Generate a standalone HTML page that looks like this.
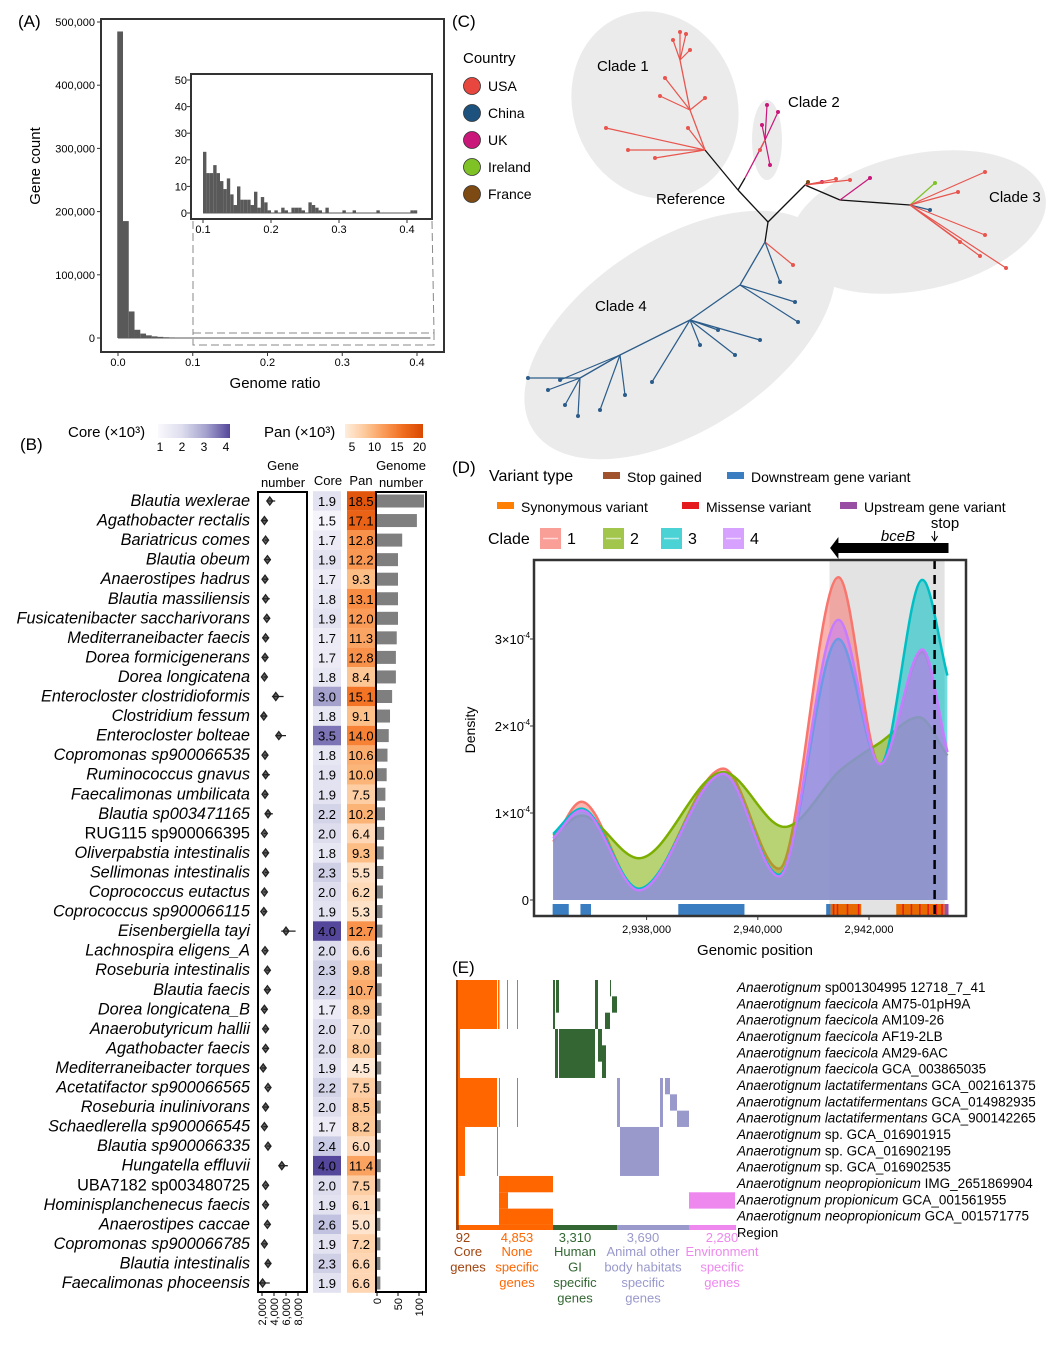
<!DOCTYPE html>
<html><head><meta charset="utf-8"><style>
body{margin:0;background:#fff}
svg{display:block;font-family:"Liberation Sans",Arial,sans-serif}
</style></head><body>
<svg id="fig" width="1061" height="1351" viewBox="0 0 1061 1351" xmlns="http://www.w3.org/2000/svg">
<g id="pA"></g>
<g id="pB"></g>
<g id="pC"></g>
<g id="pD"></g>
<g id="pE"></g>
</svg>
<script>
// ---------- Panel A data ----------
const mainBinStart=-0.001, mainBinW=0.0077;
const mainCounts=[485000,185000,42000,13000,7000,4200,2600,1800,1200,900,600,400,300];
const mainYTicks=[0,100000,200000,300000,400000,500000];
const mainYLabels=["0","100,000","200,000","300,000","400,000","500,000"];
const mainXTicks=[0,0.1,0.2,0.3,0.4];
const mainXLabels=["0.0","0.1","0.2","0.3","0.4"];
const insetBinStart=0.1, insetBinW=0.005;
const insetCounts=[23,15,15,18,15,12,9,13,7,3,10,5,5,5,3,8,2,6,4,1,0,1,0,2,1,0,2,2,2,1,0,4,3,2,1,0,2,0,0,0,0,1,0,0,1,0,0,0,0,0,0,1,0,0,0,0,0,0,0,0,0,1,1];
const insetYTicks=[0,10,20,30,40,50];
const insetXTicks=[0.1,0.2,0.3,0.4];
// ---------- Panel B data ----------
const species=["Blautia wexlerae","Agathobacter rectalis","Bariatricus comes","Blautia obeum","Anaerostipes hadrus","Blautia massiliensis","Fusicatenibacter saccharivorans","Mediterraneibacter faecis","Dorea formicigenerans","Dorea longicatena","Enterocloster clostridioformis","Clostridium fessum","Enterocloster bolteae","Copromonas sp900066535","Ruminococcus gnavus","Faecalimonas umbilicata","Blautia sp003471165","RUG115 sp900066395","Oliverpabstia intestinalis","Sellimonas intestinalis","Coprococcus eutactus","Coprococcus sp900066115","Eisenbergiella tayi","Lachnospira eligens_A","Roseburia intestinalis","Blautia faecis","Dorea longicatena_B","Anaerobutyricum hallii","Agathobacter faecis","Mediterraneibacter torques","Acetatifactor sp900066565","Roseburia inulinivorans","Schaedlerella sp900066545","Blautia sp900066335","Hungatella effluvii","UBA7182 sp003480725","Hominisplanchenecus faecis","Anaerostipes caccae","Copromonas sp900066785","Blautia intestinalis","Faecalimonas phoceensis"];
const coreVals=[1.9,1.5,1.7,1.9,1.7,1.8,1.9,1.7,1.7,1.8,3.0,1.8,3.5,1.8,1.9,1.9,2.2,2.0,1.8,2.3,2.0,1.9,4.0,2.0,2.3,2.2,1.7,2.0,2.0,1.9,2.2,2.0,1.7,2.4,4.0,2.0,1.9,2.6,1.9,2.3,1.9];
const panVals=[18.5,17.1,12.8,12.2,9.3,13.1,12.0,11.3,12.8,8.4,15.1,9.1,14.0,10.6,10.0,7.5,10.2,6.4,9.3,5.5,6.2,5.3,12.7,6.6,9.8,10.7,8.9,7.0,8.0,4.5,7.5,8.5,8.2,6.0,11.4,7.5,6.1,5.0,7.2,6.6,6.6];
const genomeNums=[112,95,60,50,50,50,50,47,45,45,36,31,28,25,23,20,19,17,16,15,14,13,13,12,12,11,11,10,10,10,10,9,9,9,9,8,8,8,8,8,8];
const geneMed=[3.3,2.4,2.6,2.9,2.5,2.6,2.8,2.6,2.5,2.4,4.3,2.3,4.8,2.5,2.6,2.5,3.0,2.4,2.6,2.6,2.4,2.3,6.0,2.5,2.9,2.9,2.4,2.6,2.6,2.2,3.0,2.6,2.4,3.0,5.3,2.6,2.6,2.9,2.4,3.0,2.1];
const geneSpread=[0.9,0.6,0.3,0.6,0.5,0.7,0.4,0.6,0.6,0.3,1.3,0.6,1.2,0.4,0.7,0.4,0.8,0.3,0.6,0.3,0.3,0.3,1.6,0.3,0.4,0.6,0.4,0.5,0.5,0.4,0.3,0.5,0.4,0.4,1.0,0.3,0.3,0.4,0.5,0.6,1.2];
const geneTicks=[2000,4000,6000,8000];
const geneTickLabels=["2,000","4,000","6,000","8,000"];
const genomeTicks=[0,50,100];
// ---------- Panel D data ----------
const cladeNames=["1","2","3","4"];
const c1x=[2936.32,2936.83,2937.86,2939.38,2940.38,2941.45,2942.2,2942.96,2943.41], c1v=[0.67,1.13,0.11,1.51,0.36,3.71,1.56,2.85,1.70];
const c2x=[2936.32,2936.83,2937.86,2939.38,2940.48,2941.5,2942.2,2942.9,2943.41], c2v=[0.74,0.97,0.48,1.47,0.84,1.5,1.81,2.1,1.66];
const c3x=[2936.32,2936.83,2937.86,2939.38,2940.38,2941.45,2942.2,2942.96,2943.41], c3v=[0.76,1.05,0.13,1.45,0.29,3.0,1.56,3.68,2.58];
const c4x=[2936.32,2936.83,2937.86,2939.38,2940.38,2941.45,2942.2,2942.96,2943.41], c4v=[0.71,1.03,0.11,1.45,0.27,3.22,1.56,2.88,1.70];
const dXTicks=[2938,2940,2942];
const dXLabels=["2,938,000","2,940,000","2,942,000"];
const dYTicks=[0,1,2,3];
const dYLabels=["0","1×10","2×10","3×10"];
const rugStart=[2936.31,2936.81,2938.57,2941.23,2941.31,2942.49,2943.36];
const rugEnd=[2936.60,2937.0,2939.76,2941.31,2941.86,2943.36,2943.43];
const rugType=["down","down","down","down","syn","syn","up"];
const missenseAt=[2941.35,2941.42,2941.6,2941.8,2942.6,2942.75,2942.9,2943.05,2943.2,2943.3];
// ---------- Panel E data ----------
const eStrains=[["sp001304995 12718_7_41"],["faecicola AM75-01pH9A"],["faecicola AM109-26"],["faecicola AF19-2LB"],["faecicola AM29-6AC"],["faecicola GCA_003865035"],["lactatifermentans GCA_002161375"],["lactatifermentans GCA_014982935"],["lactatifermentans GCA_900142265"],["sp. GCA_016901915"],["sp. GCA_016902195"],["sp. GCA_016902535"],["neopropionicum IMG_2651869904"],["propionicum GCA_001561955"],["neopropionicum GCA_001571775"]];
const regionCounts=["92","4,853","3,310","3,690","2,280"];
const regionNames=[["Core","genes"],["None","specific","genes"],["Human","GI","specific","genes"],["Animal other","body habitats","specific","genes"],["Environment","specific","genes"]];

const NS="http://www.w3.org/2000/svg";
function mk(parent,tag,attrs,text){const e=document.createElementNS(NS,tag);for(const k in attrs)e.setAttribute(k,attrs[k]);if(text!==undefined)e.textContent=text;parent.appendChild(e);return e;}

// ================= Panel A =================
(function(){
const g=document.getElementById('pA');
const t=mk(g,'text',{x:18,y:27,'font-size':17},'(A)');


const xs=v=>118+v*747.5, ys=v=>338-v*316/500000;
const box=mk(g,'rect',{x:101,y:19,width:343,height:333,fill:'none',stroke:'#333','stroke-width':2});


mainYTicks.forEach((v,i)=>{mk(g,'line',{x1:97,x2:101,y1:ys(v),y2:ys(v),stroke:'#333'});
 const l=mk(g,'text',{x:95,y:ys(v)+4,'font-size':11,'text-anchor':'end'},mainYLabels[i]);
 
 });
mainXTicks.forEach((v,i)=>{mk(g,'line',{x1:xs(v),x2:xs(v),y1:352,y2:356,stroke:'#333'});
 const l=mk(g,'text',{x:xs(v),y:366,'font-size':11,'text-anchor':'middle'},mainXLabels[i]);
 
 });
mainCounts.forEach((c,i)=>{const x0=xs(mainBinStart+i*mainBinW);
 const b=mk(g,'rect',{x:x0,y:ys(c),width:xs(mainBinStart+(i+1)*mainBinW)-x0,height:338-ys(c),fill:'#595959'});
 
 });
mk(g,'line',{x1:xs(0),x2:xs(0.418),y1:338,y2:338,stroke:'#595959'});
const yt=mk(g,'text',{x:40,y:166,'font-size':15,'text-anchor':'middle',transform:'rotate(-90 40 166)'},'Gene count');


const xt=mk(g,'text',{x:275,y:388,'font-size':15,'text-anchor':'middle'},'Genome ratio');


mk(g,'path',{d:'M193 333 H434 V345 H193 Z M193 221 V333 M432 221 L434 333',fill:'none',stroke:'#888','stroke-dasharray':'8,4'});
const ix=v=>203+(v-0.1)*680, iy=v=>213-v*2.66;
const ib=mk(g,'rect',{x:191,y:74,width:241,height:145,fill:'#fff',stroke:'#333','stroke-width':2});


insetYTicks.forEach(v=>{mk(g,'line',{x1:187,x2:191,y1:iy(v),y2:iy(v),stroke:'#333'});
 const l=mk(g,'text',{x:187,y:iy(v)+4,'font-size':11,'text-anchor':'end'},String(v));
 
 });
insetXTicks.forEach(v=>{mk(g,'line',{x1:ix(v),x2:ix(v),y1:219,y2:223,stroke:'#333'});
 const l=mk(g,'text',{x:ix(v),y:233,'font-size':11,'text-anchor':'middle'},v.toFixed(1));
 
 });
mk(g,'line',{x1:ix(0.1),x2:ix(0.1+insetCounts.length*insetBinW),y1:213,y2:213,stroke:'#595959'});
insetCounts.forEach((c,i)=>{if(!c)return;const x0=ix(insetBinStart+i*insetBinW);
 const b=mk(g,'rect',{x:x0,y:iy(c),width:ix(insetBinStart+(i+1)*insetBinW)-x0,height:213-iy(c),fill:'#595959'});
 
 });
})();

// ================= Panel B =================
(function(){
const g=document.getElementById('pB');
const t=mk(g,'text',{x:20,y:450,'font-size':17},'(B)');


function lerp(a,b,t){return a.map((v,i)=>Math.round(v+(b[i]-v)*t));}
function coreCol(v){const t=Math.max(0,Math.min(1,(v-1.4)/2.6));const c=t<0.5?lerp([250,249,253],[188,189,220],t/0.5):lerp([188,189,220],[84,71,155],(t-0.5)/0.5);return `rgb(${c})`;}
function panCol(v){const t=Math.max(0,Math.min(1,(v-4)/16));const stops=[[254,237,222],[253,190,133],[246,120,40],[217,72,1]];const s=Math.min(2,Math.floor(t*3));return `rgb(${lerp(stops[s],stops[s+1],t*3-s)})`;}
mk(g,'text',{x:68,y:437,'font-size':15},'Core (×10³)');
const dfs=mk(g,'defs',{});
const lg1=mk(dfs,'linearGradient',{id:'gcore'});
[1,2,3,4].forEach((v,i)=>mk(lg1,'stop',{offset:(i/3),'stop-color':coreCol(v)}));
const lg2=mk(dfs,'linearGradient',{id:'gpan'});
[4,8,12,16,20].forEach((v,i)=>mk(lg2,'stop',{offset:(i/4),'stop-color':panCol(v)}));
const cb=mk(g,'rect',{x:158,y:424,width:72,height:14,fill:'url(#gcore)'});


[1,2,3,4].forEach((v,i)=>mk(g,'text',{x:160+i*22,y:451,'font-size':12,'text-anchor':'middle'},String(v)));
mk(g,'text',{x:264,y:437,'font-size':15},'Pan (×10³)');
const pb=mk(g,'rect',{x:345,y:424,width:78,height:14,fill:'url(#gpan)'});


[5,10,15,20].forEach((v,i)=>mk(g,'text',{x:352+i*22.5,y:451,'font-size':12,'text-anchor':'middle'},String(v)));
[['Gene',283,470],['number',283,487],['Core',328,485],['Pan',361,485],['Genome',401,470],['number',401,487]].forEach(h=>{
 const e=mk(g,'text',{x:h[1],y:h[2],'font-size':13,'text-anchor':'middle'},h[0]);
 
 });
const ry=i=>501+i*19.55;
const gx=v=>262+(v-2000)*0.006;
const nx=v=>377+v*0.42;
const vb=mk(g,'rect',{x:258,y:492,width:49,height:800,fill:'none',stroke:'#000','stroke-width':2});


const nb=mk(g,'rect',{x:376,y:492,width:50,height:800,fill:'none',stroke:'#000','stroke-width':2});


species.forEach((s,i)=>{
 const y=ry(i);
 const lab=mk(g,'text',{x:250,y:y+5,'font-size':16.3,'text-anchor':'end','font-style':/^(RUG115|UBA7182)/.test(s)?'normal':'italic'},s);
 
 
 const m=gx(geneMed[i]*1000), sp=geneSpread[i]*6;
 const vl=mk(g,'path',{d:`M${m-sp*0.5} ${y} L${m+sp} ${y} M${m} ${y-4} L${m+3} ${y} L${m} ${y+4} L${m-3} ${y} Z`,stroke:'#222','stroke-width':1.3,fill:'#666'});
 
 
 const cr=mk(g,'rect',{x:313,y:y-9.8,width:28,height:19.6,fill:coreCol(coreVals[i])});
 
 
 mk(g,'text',{x:327,y:y+5,'font-size':13,'text-anchor':'middle'},coreVals[i].toFixed(1));
 const pr=mk(g,'rect',{x:347,y:y-9.8,width:28,height:19.6,fill:panCol(panVals[i])});
 
 
 mk(g,'text',{x:361,y:y+5,'font-size':13,'text-anchor':'middle'},panVals[i].toFixed(1));
 const br=mk(g,'rect',{x:377,y:y-6.5,width:nx(genomeNums[i])-377,height:13,fill:'#7f7f7f'});
 
 
});
geneTicks.forEach((v,i)=>{mk(g,'line',{x1:gx(v),x2:gx(v),y1:1292,y2:1296,stroke:'#000'});
 const l=mk(g,'text',{x:gx(v)+4,y:1298,'font-size':11,'text-anchor':'end',transform:`rotate(-90 ${gx(v)+4} 1298)`},geneTickLabels[i]);
 
 });
genomeTicks.forEach(v=>{mk(g,'line',{x1:nx(v),x2:nx(v),y1:1292,y2:1296,stroke:'#000'});
 const l=mk(g,'text',{x:nx(v)+4,y:1298,'font-size':11,'text-anchor':'end',transform:`rotate(-90 ${nx(v)+4} 1298)`},String(v));
 
 });
})();

// ================= Panel C =================
(function(){
const g=document.getElementById('pC');
const t=mk(g,'text',{x:452,y:27,'font-size':17},'(C)');


[[655,105,82,95,-20],[767,140,15,40,0],[918,222,130,68,-12],[680,335,175,95,-33]].forEach(e=>{
 const el=mk(g,'ellipse',{cx:e[0],cy:e[1],rx:e[2],ry:e[3],fill:'#ebebeb',transform:`rotate(${e[4]} ${e[0]} ${e[1]})`});
 
 });
[['Clade 1',597,71],['Clade 2',788,107],['Clade 3',989,202],['Clade 4',595,311],['Reference',656,204]].forEach(l=>{
 const e=mk(g,'text',{x:l[1],y:l[2],'font-size':15},l[0]);
 
 });
mk(g,'text',{x:463,y:63,'font-size':15},'Country');
const countries=[['USA','#e8473f'],['China','#1d527f'],['UK','#c9177a'],['Ireland','#7ec225'],['France','#7c4a12']];
countries.forEach((c,i)=>{const y=86+i*27;
 const ci=mk(g,'circle',{cx:472,cy:y,r:8.5,fill:c[1],stroke:'#333','stroke-width':0.8});
 
 
 mk(g,'text',{x:488,y:y+5,'font-size':14},c[0]);});
const R='#e8554e',B='#2b5c8a',M='#c9177a',K='#111';
const segs=[[768,222,738,190,K],[738,190,705,150,K],[738,190,745,178,K],[745,178,765,140,M],[768,222,805,185,K],[805,185,840,200,K],[840,200,910,205,K],[768,222,765,242,K],[765,242,740,285,B],[740,285,690,320,B],[690,320,620,355,B],[620,355,580,378,B],[705,150,690,110,R],[690,110,680,60,R]];
const tips=[
[680,60,680,32,R],[680,60,686,34,R],[680,60,673,40,R],[680,60,690,50,R],[690,110,665,78,R],[690,110,660,96,R],[705,150,606,128,R],[705,150,628,150,R],[705,150,655,158,R],[690,110,705,98,R],[705,150,688,128,R],
[765,140,767,105,M],[765,140,778,112,M],[765,140,762,125,M],[765,140,770,165,M],[765,140,760,150,R],
[805,185,808,182,K],[805,185,822,182,M],[805,185,836,179,R],[805,185,850,180,R],[840,200,870,178,M],[910,205,935,183,'#7ec225'],[910,205,958,192,R],[910,205,985,172,R],[910,205,930,210,B],[910,205,985,235,R],[910,205,1006,268,R],[910,205,980,256,R],[910,205,960,242,R],
[765,242,793,265,R],[765,242,780,282,B],[740,285,798,322,B],[740,285,795,302,B],[690,320,760,340,B],[690,320,735,355,B],[690,320,700,345,B],[690,320,652,382,B],[620,355,625,395,B],[620,355,600,410,B],[580,378,528,378,B],[580,378,548,390,B],[580,378,565,405,B],[580,378,578,416,B],[620,355,560,380,B],[690,320,718,330,B]];
segs.forEach(s=>{const l=mk(g,'line',{x1:s[0],y1:s[1],x2:s[2],y2:s[3],stroke:s[4],'stroke-width':1.3});
 
 });
tips.forEach(s=>{const l=mk(g,'line',{x1:s[0],y1:s[1],x2:s[2],y2:s[3],stroke:s[4],'stroke-width':1.2});
 
 
 const c=mk(g,'circle',{cx:s[2],cy:s[3],r:2,fill:s[4]===K?'#7c4a12':s[4]});
 
 });
})();

// ================= Panel D =================
(function(){
const g=document.getElementById('pD');
const t=mk(g,'text',{x:452,y:473,'font-size':17},'(D)');


const X=k=>646.6+(k-2938)*55.6, Y=v=>900-v*87;
mk(g,'text',{x:489,y:481,'font-size':16},'Variant type');
[['Stop gained','#a0522d',603,477],['Downstream gene variant','#3a7dc0',727,477],['Synonymous variant','#ff7f00',497,507],['Missense variant','#e41a1c',682,507],['Upstream gene variant','#984ea3',840,507]].forEach(l=>{
 const s=mk(g,'rect',{x:l[2],y:l[3]-5,width:17,height:7,fill:l[1]});
 
 
 mk(g,'text',{x:l[2]+24,y:l[3]+5,'font-size':14},l[0]);});
mk(g,'text',{x:488,y:544,'font-size':16},'Clade');
const cc=['#f8766d','#7cae00','#00bfc4','#c77cff'];
[541,604,662,724].forEach((x,i)=>{
 const s=mk(g,'rect',{x:x,y:529,width:19,height:19,fill:cc[i],opacity:0.7,stroke:cc[i],'stroke-width':2});
 
 
 mk(g,'line',{x1:x+2,x2:x+17,y1:538.5,y2:538.5,stroke:'#fff','stroke-width':1.5,opacity:0.6});
 mk(g,'text',{x:x+26,y:544,'font-size':16},cladeNames[i]);});
const sh=mk(g,'rect',{x:X(2941.29),y:560,width:X(2943.36)-X(2941.29),height:356,fill:'#e3e3e3'});


function mono(xs,ys){const n=xs.length,d=[],m=[];for(let i=0;i<n-1;i++)d.push((ys[i+1]-ys[i])/(xs[i+1]-xs[i]));
 m[0]=d[0];m[n-1]=d[n-2];for(let i=1;i<n-1;i++)m[i]=d[i-1]*d[i]<=0?0:(d[i-1]+d[i])/2;
 for(let i=0;i<n-1;i++){if(d[i]===0){m[i]=m[i+1]=0;continue;}const a=m[i]/d[i],b=m[i+1]/d[i],s=a*a+b*b;if(s>9){const tt=3/Math.sqrt(s);m[i]=tt*a*d[i];m[i+1]=tt*b*d[i];}}
 let p=`M${xs[0]} ${ys[0]}`;for(let i=0;i<n-1;i++){const h=(xs[i+1]-xs[i])/3;p+=` C${xs[i]+h} ${ys[i]+m[i]*h} ${xs[i+1]-h} ${ys[i+1]-m[i+1]*h} ${xs[i+1]} ${ys[i+1]}`;}return p;}
const series=[[c1x,c1v],[c2x,c2v],[c3x,c3v],[c4x,c4v]];
series.forEach((s,i)=>{const px=s[0].map(X),py=s[1].map(Y);const line=mono(px,py);
 const a=mk(g,'path',{d:line+` L${px[px.length-1]} ${Y(0)} L${px[0]} ${Y(0)} Z`,fill:cc[i],'fill-opacity':0.55});
 
 
 const l=mk(g,'path',{d:line,fill:'none',stroke:cc[i],'stroke-width':2.5});
 
 });
const rc={down:'#3a7dc0',syn:'#e66a00',up:'#984ea3'};
rugStart.forEach((s,i)=>{const r=mk(g,'rect',{x:X(s),y:904,width:X(rugEnd[i])-X(s),height:12,fill:rc[rugType[i]]});
 
 });
missenseAt.forEach(k=>{const r=mk(g,'rect',{x:X(k),y:904,width:1.5,height:12,fill:'#e41a1c'});
 
 });
const dl=mk(g,'line',{x1:X(2943.18),x2:X(2943.18),y1:560,y2:916,stroke:'#000','stroke-width':2.5,'stroke-dasharray':'9,6'});


const fr=mk(g,'rect',{x:534,y:560,width:432,height:356,fill:'none',stroke:'#333','stroke-width':2.5});


dYTicks.forEach((v,i)=>{mk(g,'line',{x1:530,x2:534,y1:Y(v),y2:Y(v),stroke:'#333'});
 const l=mk(g,'text',{x:v?524:529,y:Y(v)+5,'font-size':13,'text-anchor':'end'},dYLabels[i]);
 
 
 if(v)mk(g,'text',{x:523,y:Y(v)-1,'font-size':8},'-4');});
dXTicks.forEach((v,i)=>{mk(g,'line',{x1:X(v),x2:X(v),y1:916,y2:920,stroke:'#333'});
 const l=mk(g,'text',{x:X(v),y:933,'font-size':11,'text-anchor':'middle'},dXLabels[i]);
 
 });
const yt=mk(g,'text',{x:475,y:730,'font-size':14,'text-anchor':'middle',transform:'rotate(-90 475 730)'},'Density');


const xt=mk(g,'text',{x:755,y:955,'font-size':15,'text-anchor':'middle'},'Genomic position');


const ar=mk(g,'path',{d:`M${X(2943.43)} 543 H${X(2941.45)} V537 L${X(2941.3)} 548 L${X(2941.45)} 559 V553 H${X(2943.43)} Z`,fill:'#000'});


mk(g,'text',{x:898,y:541,'font-size':15,'font-style':'italic','text-anchor':'middle'},'bceB');
mk(g,'text',{x:945,y:528,'font-size':15,'text-anchor':'middle'},'stop');
mk(g,'path',{d:`M${X(2943.18)} 531 V540 M${X(2943.18)-3} 536 L${X(2943.18)} 541 L${X(2943.18)+3} 536`,stroke:'#000',fill:'none'});
})();

// ================= Panel E =================
(function(){
const g=document.getElementById('pE');
const t=mk(g,'text',{x:452,y:973,'font-size':17},'(E)');


const top=980,rh=16.33, ry=i=>top+i*rh;
const O='#ff6600',G='#336633',P='#9999cc',V='#ee88ee';
const blocks=[[0,3,457,497,O],[0,3,498,499.5,O],[0,3,507,508,O],[0,3,517,518,O],[6,9,457,497,O],[6,9,499,500,O],[6,9,517,518,O],[3,6,457,460,O],[9,12,457,465,O],[9,12,497,498,O],[12,13,499,553,O],[14,15,499,553,O],[13,14,499,508,O],[12,15,457,459,O],
[0,3,553,555,G],[0,2,556,559,G],[0,3,595,598,G],[2,3,605,610,G],[1,2,612,617,G],[0,1,610,611,G],[3,6,559,595,G],[3,6,555,558,G],[3,5,598,602,G],[4,6,602,606,G],
[6,9,617,620,P],[9,12,620,659,P],[6,9,660,663,P],[6,7,665,670,P],[7,8,670,677,P],[8,9,677,689,P],[13,14,689,735,V]];
blocks.forEach(b=>{const r=mk(g,'rect',{x:b[2],y:ry(b[0]),width:b[3]-b[2],height:ry(b[1])-ry(b[0]),fill:b[4]});
 
 });
mk(g,'rect',{x:456,y:top,width:2,height:rh*15,fill:'#a0440f'});
const regCols=['#a0440f',O,G,P,V], regX=[[456,459],[459,553],[553,617],[617,689],[689,736]];
regX.forEach((r,i)=>{const e=mk(g,'rect',{x:r[0],y:1225,width:r[1]-r[0],height:5,fill:regCols[i]});
 
 });
mk(g,'text',{x:737,y:1237,'font-size':13},'Region');
eStrains.forEach((s,i)=>{const l=mk(g,'text',{x:737,y:ry(i)+12,'font-size':13.5,'font-style':'italic'});
 
 
 l.textContent='Anaerotignum ';
 const w=s[0].split(' ');
 const isSp=/^sp/.test(w[0]);
 mk(l,'tspan',{'font-style':isSp?'normal':'italic'},w[0]+' ');
 mk(l,'tspan',{'font-style':'normal'},w.slice(1).join(' '));
});
const cx=[463,517,575,643,722];
const tc=['#a0440f','#ff6600','#336633','#9999cc','#ee88ee'];
regionCounts.forEach((c,i)=>{const e=mk(g,'text',{x:cx[i],y:1242,'font-size':13,'text-anchor':'middle',fill:tc[i]},c);
 
 
 regionNames[i].forEach((n,j)=>{const l=mk(g,'text',{x:i==0?468:cx[i],y:1256+j*15.5,'font-size':13,'text-anchor':'middle',fill:tc[i]},n);
  
  });});
})();
</script>
</body></html>
